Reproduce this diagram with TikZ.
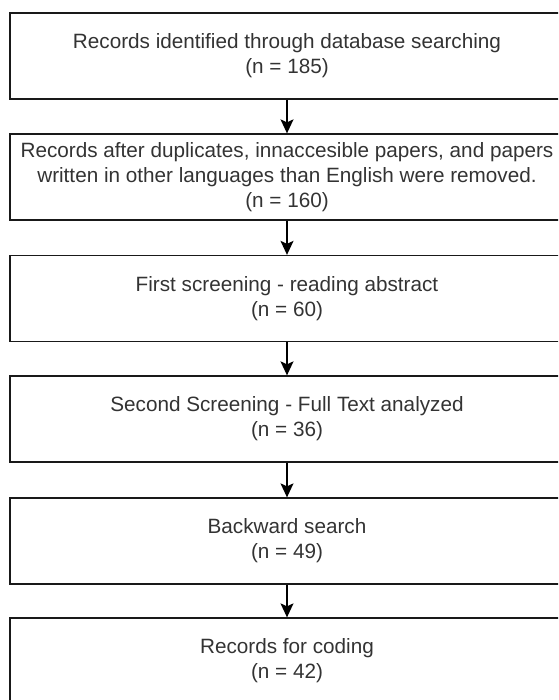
\documentclass[tikz,border=0pt]{standalone}
\usepackage{fontspec}
\setmainfont{Liberation Sans}
\usetikzlibrary{arrows.meta}
\begin{document}
\begin{tikzpicture}[x=1pt,y=-1pt,
  box/.style={draw=black!90, line width=1.3pt, minimum width=554pt, minimum height=86pt,
    align=center, text=black!80, font=\fontsize{20.7pt}{25pt}\selectfont, inner sep=0pt},
  flow/.style={draw=black, line width=1.3pt, -{Stealth[length=14pt,width=13pt,inset=3pt]}}]
\useasboundingbox (0,0) rectangle (558,700);
\clip (0,0) rectangle (558,700);
\node[box] (b1) at (287,56) {Records identified through database searching\\(n = 185)};
\node[box] (b2) at (287,177) {Records after duplicates, innaccesible papers, and papers\\written in other languages than English were removed.\\(n = 160)};
\node[box] (b3) at (287,298.5) {First screening - reading abstract\\(n = 60)};
\node[box] (b4) at (287,419) {Second Screening - Full Text analyzed\\(n = 36)};
\node[box] (b5) at (287,541) {Backward search\\(n = 49)};
\node[box] (b6) at (287,661) {Records for coding\\(n = 42)};
\draw[flow] (b1) -- (b2);
\draw[flow] (b2) -- (b3);
\draw[flow] (b3) -- (b4);
\draw[flow] (b4) -- (b5);
\draw[flow] (b5) -- (b6);
\end{tikzpicture}
\end{document}
